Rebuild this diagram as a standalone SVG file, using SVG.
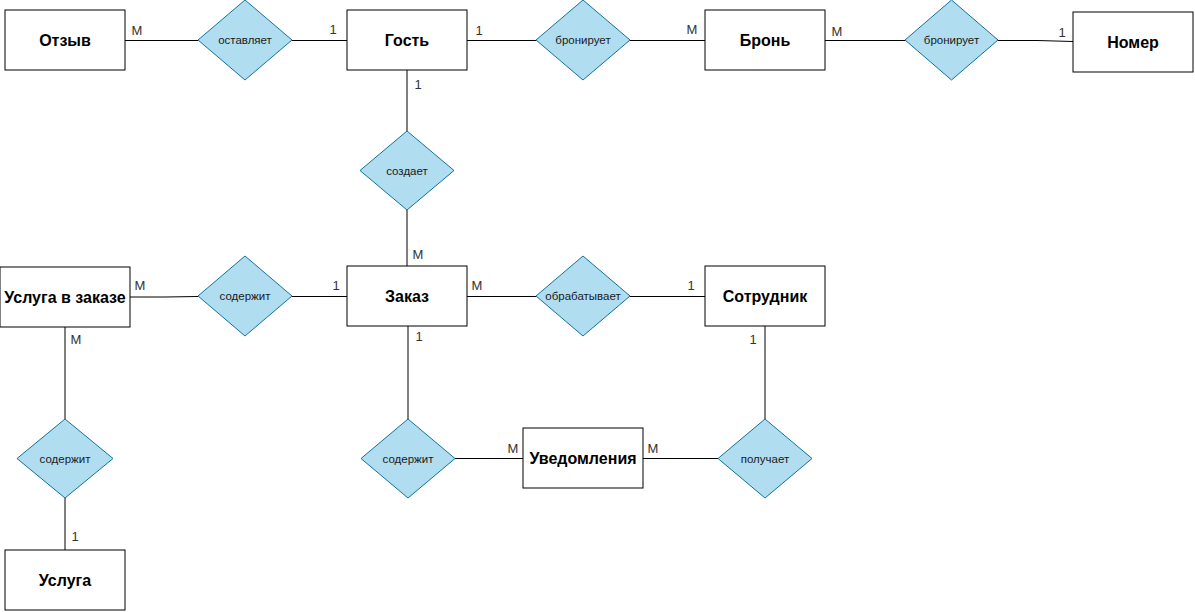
<svg xmlns="http://www.w3.org/2000/svg" width="1195" height="612" viewBox="0 0 1195 612">
<style>
.ent{fill:#ffffff;stroke:#000000;stroke-width:1}
.rel{fill:#b1ddf0;stroke:#10739e;stroke-width:1}
.et{font-family:"Liberation Sans",Arial,sans-serif;font-size:16px;font-weight:bold;fill:#000;text-anchor:middle;dominant-baseline:central}
.rt{font-family:"Liberation Sans",Arial,sans-serif;font-size:11.5px;fill:#1a1a1a;text-anchor:middle;dominant-baseline:central}
.card{font-family:"Liberation Sans",Arial,sans-serif;font-size:13px;fill:#333333;text-anchor:middle;dominant-baseline:central}
.ln{fill:none;stroke:#000000;stroke-width:1}
</style>
<rect width="1195" height="612" fill="#ffffff"/>
<g id="connectors">
<path class="ln" d="M125 40.5H198"/>
<path class="ln" d="M292 40.5H347"/>
<path class="ln" d="M467 40.5H536"/>
<path class="ln" d="M630 40.5H705"/>
<path class="ln" d="M825 40.5H905"/>
<path class="ln" d="M998 40.5H1037L1073 41.5"/>
<path class="ln" d="M407 70V131"/>
<path class="ln" d="M407 210V267"/>
<path class="ln" d="M130 297H165L198 296.5"/>
<path class="ln" d="M292 296.5H347"/>
<path class="ln" d="M467 296.5H536"/>
<path class="ln" d="M630 296.5H705"/>
<path class="ln" d="M65 327V419"/>
<path class="ln" d="M65 498V550"/>
<path class="ln" d="M408 326V419"/>
<path class="ln" d="M455 458.5H523"/>
<path class="ln" d="M643 458.5H718"/>
<path class="ln" d="M765 326V419"/>
<text class="card" x="137" y="30">M</text>
<text class="card" x="333" y="29">1</text>
<text class="card" x="479" y="30">1</text>
<text class="card" x="692" y="29">M</text>
<text class="card" x="837" y="31">M</text>
<text class="card" x="1062" y="32">1</text>
<text class="card" x="418" y="84">1</text>
<text class="card" x="418" y="254">M</text>
<text class="card" x="140" y="285">M</text>
<text class="card" x="336" y="285">1</text>
<text class="card" x="477" y="285">M</text>
<text class="card" x="691" y="285">1</text>
<text class="card" x="76" y="339">M</text>
<text class="card" x="419" y="336">1</text>
<text class="card" x="753" y="339">1</text>
<text class="card" x="513" y="448">M</text>
<text class="card" x="653" y="448">M</text>
<text class="card" x="75" y="536">1</text>
</g>
<g id="otzyv"><rect class="ent" x="5" y="10" width="120" height="60"/><text class="et" x="65" y="40">Отзыв</text></g>
<g id="ostavlyaet"><polygon class="rel" points="245,0 292,40 245,80 198,40"/><text class="rt" x="245" y="40">оставляет</text></g>
<g id="gost"><rect class="ent" x="347" y="10" width="120" height="60"/><text class="et" x="407" y="40">Гость</text></g>
<g id="broniruet1"><polygon class="rel" points="583,0 630,40 583,80 536,40"/><text class="rt" x="583" y="40">бронирует</text></g>
<g id="bron"><rect class="ent" x="705" y="10" width="120" height="60"/><text class="et" x="765" y="40">Бронь</text></g>
<g id="broniruet2"><polygon class="rel" points="951.5,0 998,40 951.5,80 905,40"/><text class="rt" x="951.5" y="40">бронирует</text></g>
<g id="nomer"><rect class="ent" x="1073" y="12" width="120" height="60"/><text class="et" x="1133" y="42">Номер</text></g>
<g id="sozdaet"><polygon class="rel" points="407,131 454,170.5 407,210 360,170.5"/><text class="rt" x="407" y="170.5">создает</text></g>
<g id="usluga_v_zakaze"><rect class="ent" x="0" y="267" width="130" height="60"/><text class="et" x="65" y="297">Услуга в заказе</text></g>
<g id="soderzhit1"><polygon class="rel" points="245,256 292,296 245,336 198,296"/><text class="rt" x="245" y="296">содержит</text></g>
<g id="zakaz"><rect class="ent" x="347" y="266" width="120" height="60"/><text class="et" x="407" y="296">Заказ</text></g>
<g id="obrabatyvaet"><polygon class="rel" points="583,256 630,296 583,336 536,296"/><text class="rt" x="583" y="296">обрабатывает</text></g>
<g id="sotrudnik"><rect class="ent" x="705" y="266" width="120" height="60"/><text class="et" x="765" y="296">Сотрудник</text></g>
<g id="soderzhit2"><polygon class="rel" points="65,419 113,458.5 65,498 17,458.5"/><text class="rt" x="65" y="458.5">содержит</text></g>
<g id="usluga"><rect class="ent" x="5" y="550" width="120" height="60"/><text class="et" x="65" y="580">Услуга</text></g>
<g id="soderzhit3"><polygon class="rel" points="408,419 455,458.5 408,498 361,458.5"/><text class="rt" x="408" y="458.5">содержит</text></g>
<g id="uvedomleniya"><rect class="ent" x="523" y="428" width="120" height="60"/><text class="et" x="583" y="458">Уведомления</text></g>
<g id="poluchaet"><polygon class="rel" points="765,419 812,458.5 765,498 718,458.5"/><text class="rt" x="765" y="458.5">получает</text></g>
</svg>
